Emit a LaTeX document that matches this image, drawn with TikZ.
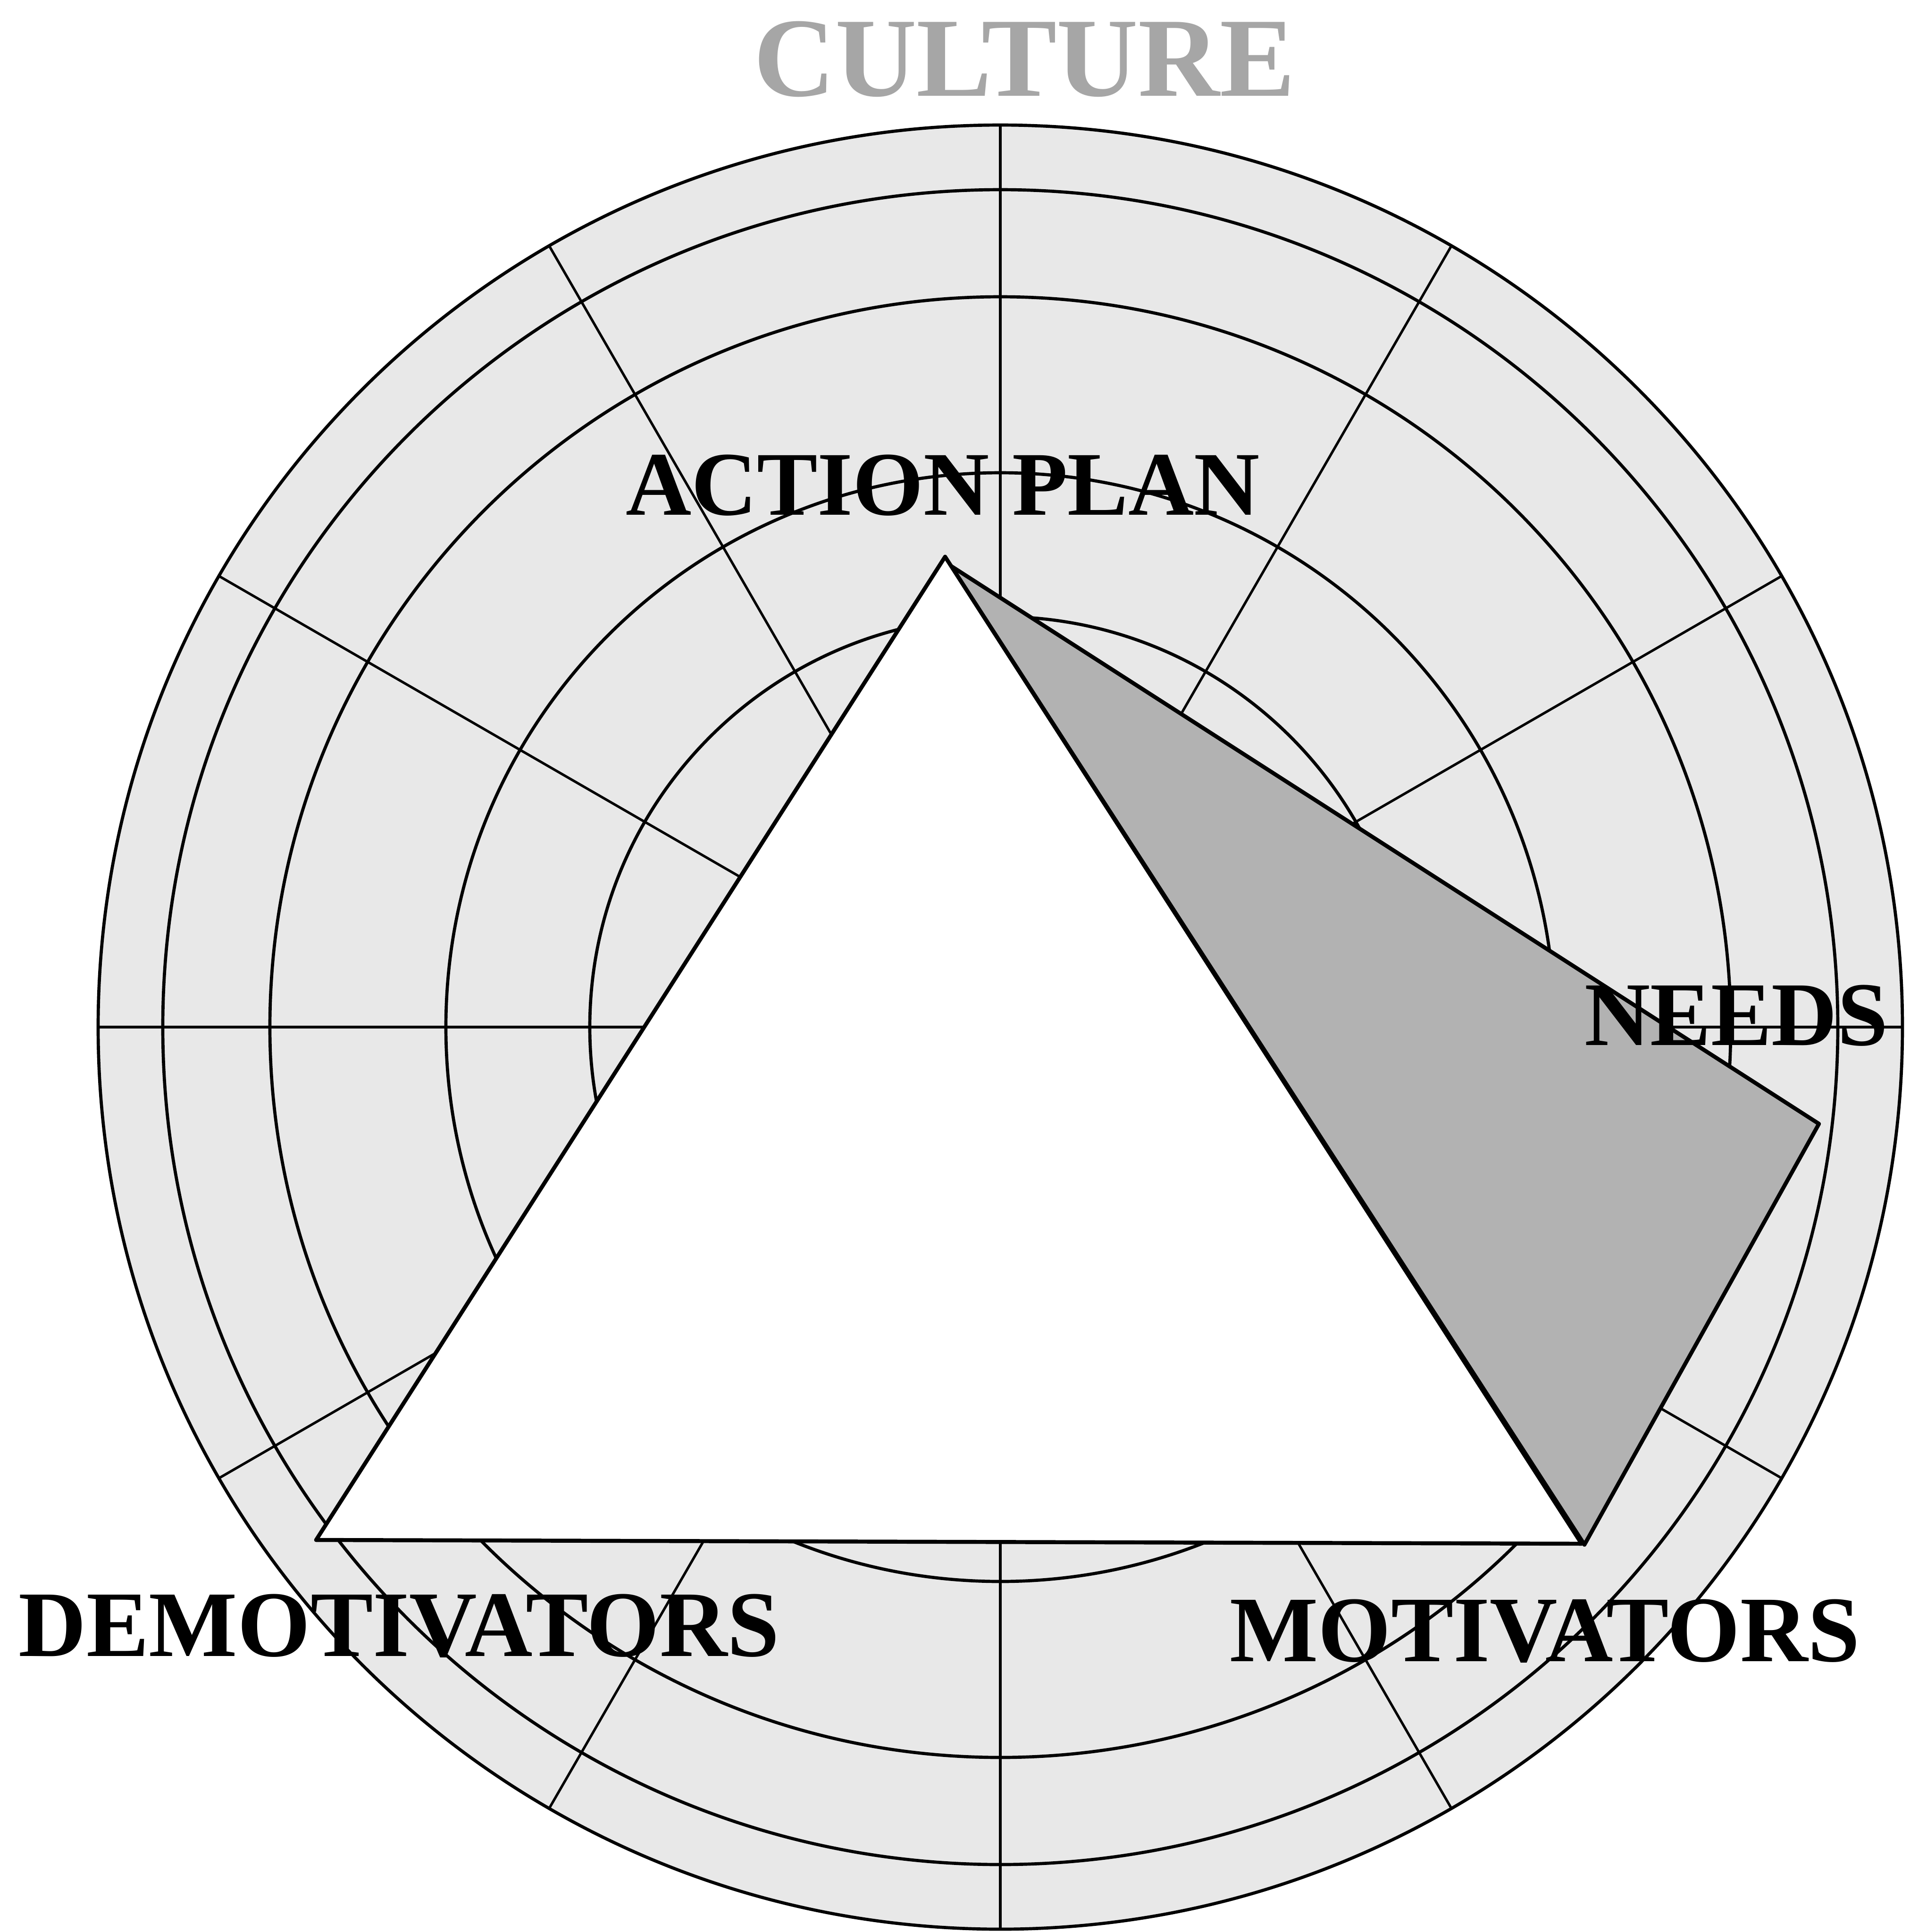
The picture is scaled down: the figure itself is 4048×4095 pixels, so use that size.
\documentclass[tikz,border=0pt]{standalone}
\usepackage{fontspec}
\setmainfont{Liberation Serif}
\begin{document}
\begin{tikzpicture}[x=0.01cm,y=0.01cm,
  ring/.style={line width=1.9pt, draw=black},
  spoke/.style={line width=1.5pt, draw=black},
  outlined/.style={line width=2.4pt, draw=black, line join=round},
  tag/.style={font=\fontsize{54.8}{55}\selectfont\bfseries, anchor=base, inner sep=0pt, text=black},
  bigtag/.style={font=\fontsize{56.5}{57}\selectfont\bfseries, anchor=base, inner sep=0pt, text=black},
  headline/.style={font=\fontsize{68}{68}\selectfont\bfseries, anchor=base, inner sep=0pt, text=black!35},
]
\useasboundingbox (0,0) rectangle (4048,-4095);
\fill[white] (0,0) rectangle (4048,-4095);

% polar grid: disc, twelve spokes, five rings
\coordinate (O) at (2120,-2177);
\fill[black!9] (O) circle[radius=1912];
\foreach \a in {0,30,...,330} \draw[spoke] (O) -- ++(\a:1912);
\foreach \r in {1912,1775,1548,1175,870} \draw[ring] (O) circle[radius=\r];

% grey wedge behind the triangle
\coordinate (G1) at (2016,-1200);
\coordinate (G2) at (3855,-2382);
\coordinate (G3) at (3358,-3274);
\filldraw[outlined, fill=black!30] (G1) -- (G2) -- (G3) -- cycle;

% white triangle
\coordinate (T1) at (2003,-1180);
\coordinate (T2) at (670,-3264);
\coordinate (T3) at (3352,-3272);
\filldraw[outlined, fill=white] (T1) -- (T2) -- (T3) -- cycle;

% labels
\node[headline] (culture) at (2171,-203) {CULTURE};
\node[tag] (action) at (1998,-1091) {ACTION PLAN};
\node[tag] (needs) at (3680,-2215) {NEEDS};
\node[bigtag] (demot) at (846,-3510) {DEMOTIVATORS};
\node[bigtag] (motiv) at (3274,-3521) {MOTIVATORS};
\end{tikzpicture}
\end{document}
